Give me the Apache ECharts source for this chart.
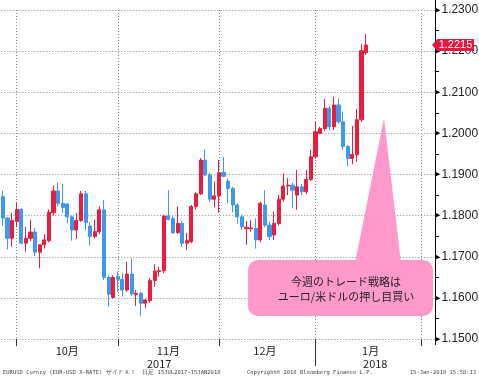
<!DOCTYPE html>
<html><head><meta charset="utf-8">
<script src="https://cdn.jsdelivr.net/npm/echarts@6/dist/echarts.min.js"></script>
<style>html,body{margin:0;padding:0;background:#fff}#c{width:479px;height:379px}</style>
</head><body><div id="c"></div>
<script>
// trading-day categories (weekdays) 2017-09-25 .. 2018-02-05
const dates = [
 '9/25','9/26','9/27','9/28','9/29',
 '10/2','10/3','10/4','10/5','10/6','10/9','10/10','10/11','10/12','10/13','10/16','10/17','10/18','10/19','10/20','10/23','10/24','10/25','10/26','10/27','10/30','10/31',
 '11/1','11/2','11/3','11/6','11/7','11/8','11/9','11/10','11/13','11/14','11/15','11/16','11/17','11/20','11/21','11/22','11/23','11/24','11/27','11/28','11/29','11/30',
 '12/1','12/4','12/5','12/6','12/7','12/8','12/11','12/12','12/13','12/14','12/15','12/18','12/19','12/20','12/21','12/22','12/25','12/26','12/27','12/28','12/29',
 '1/1','1/2','1/3','1/4','1/5','1/8','1/9','1/10','1/11','1/12','1/15','1/16','1/17','1/18','1/19','1/22','1/23','1/24','1/25','1/26','1/29','1/30','1/31',
 '2/1','2/2','2/5'
];
// EUR/USD daily OHLC, 9/26/2017 .. 1/15/2018
const opens = [
 1.1846,1.1794,1.1745,1.1786,
 1.1815,1.1733,1.1745,1.1760,1.1711,1.1729,1.1739,1.1807,1.1860,1.1830,1.1828,1.1797,1.1765,1.1788,1.1853,1.1775,1.1749,1.1761,1.1814,1.1650,1.1601,1.1652,
 1.1645,1.1619,1.1658,1.1608,1.1611,1.1587,1.1593,1.1642,1.1664,1.1666,1.1799,1.1793,1.1759,1.1781,1.1733,1.1737,1.1822,1.1853,1.1935,1.1899,1.1840,1.1848,
 1.1905,1.1884,1.1866,1.1826,1.1797,1.1768,1.1768,1.1769,1.1741,1.1826,1.1777,1.1753,1.1781,1.1840,1.1872,1.1874,1.1850,1.1870,1.1858,1.1888,1.1943,
 1.2000,1.2012,1.2061,1.2016,1.2069,1.2028,1.1968,1.1939,1.1948,1.2033,1.2196
];
const closes = [
 1.1794,1.1745,1.1788,1.1815,
 1.1733,1.1745,1.1760,1.1711,1.1729,1.1741,1.1808,1.1860,1.1830,1.1820,1.1797,1.1765,1.1788,1.1853,1.1783,1.1749,1.1761,1.1814,1.1650,1.1609,1.1650,1.1645,
 1.1619,1.1658,1.1610,1.1611,1.1587,1.1595,1.1642,1.1665,1.1666,1.1799,1.1791,1.1758,1.1781,1.1733,1.1739,1.1822,1.1853,1.1935,1.1899,1.1840,1.1848,1.1904,
 1.1896,1.1866,1.1826,1.1797,1.1773,1.1772,1.1770,1.1741,1.1830,1.1777,1.1749,1.1781,1.1840,1.1872,1.1874,1.1862,1.1870,1.1858,1.1888,1.1943,1.2004,
 1.2012,1.2061,1.2016,1.2069,1.2028,1.1968,1.1939,1.1949,1.2033,1.2201,1.2215
];
const lows = [
 1.1775,1.1718,1.1724,1.1772,
 1.1730,1.1712,1.1738,1.1702,1.1672,1.1720,1.1735,1.1800,1.1823,1.1807,1.1781,1.1739,1.1743,1.1785,1.1764,1.1727,1.1745,1.1755,1.1643,1.1579,1.1598,1.1615,
 1.1603,1.1615,1.1605,1.1580,1.1556,1.1575,1.1588,1.1627,1.1652,1.1660,1.1788,1.1757,1.1755,1.1725,1.1716,1.1733,1.1815,1.1850,1.1896,1.1833,1.1820,1.1807,
 1.1893,1.1830,1.1808,1.1780,1.1765,1.1729,1.1761,1.1720,1.1735,1.1772,1.1741,1.1741,1.1776,1.1834,1.1850,1.1818,1.1814,1.1850,1.1853,1.1884,1.1938,
 1.1998,1.2006,1.2008,1.2008,1.2024,1.1960,1.1919,1.1925,1.1931,1.2028,1.2191
];
const highs = [
 1.1861,1.1797,1.1807,1.1832,
 1.1818,1.1773,1.1790,1.1770,1.1731,1.1755,1.1815,1.1873,1.1881,1.1877,1.1830,1.1800,1.1806,1.1860,1.1860,1.1785,1.1790,1.1823,1.1838,1.1655,1.1655,1.1664,
 1.1660,1.1688,1.1696,1.1619,1.1614,1.1597,1.1648,1.1682,1.1676,1.1802,1.1862,1.1798,1.1822,1.1786,1.1758,1.1826,1.1857,1.1940,1.1961,1.1904,1.1883,1.1935,
 1.1942,1.1890,1.1870,1.1830,1.1803,1.1787,1.1789,1.1793,1.1834,1.1862,1.1785,1.1810,1.1850,1.1903,1.1891,1.1880,1.1911,1.1877,1.1911,1.1960,1.2028,
 1.2016,1.2083,1.2066,1.2089,1.2085,1.2053,1.1972,1.2018,1.2059,1.2217,1.2242
];
const firstDataIdx = 1;             // 9/26
const monthEndIdx = [4, 26, 48, 69, 92];
const monthLabels = {15: '10月', 37: '11月', 58: '12月', 81: '1月'};
const yearLabels = {35: '2017', 82: '2018'};
const yearBoundaryIdx = 69;
const yMin = 1.15, yMax = 1.23, yStep = 0.01;
const lastPrice = 1.2215;
const calloutLines = ['今週のトレード戦略は', 'ユーロ/米ドルの押し目買い'];
const footerLeft = 'EURUSD Curncy (EUR-USD X-RATE) ザイＦＸ！  日足 15JUL2017-15JAN2018';
const footerMid = 'Copyright© 2018 Bloomberg Finance L.P.';
const footerRight = '15-Jan-2018 15:50:13';

const UP = '#ec1c3e', DOWN = '#3d98ee', PINK = '#ff99cc';
const candle = dates.map((d, i) => {
  const k = i - firstDataIdx;
  return (k >= 0 && k < opens.length) ? [opens[k], closes[k], lows[k], highs[k]] : ['-', '-', '-', '-'];
});

const chart = echarts.init(document.getElementById('c'), null, {renderer: 'canvas'});
const yFont = '"Liberation Sans Narrow", "Liberation Sans", sans-serif';
const option = {
  animation: false,
  backgroundColor: '#fff',
  grid: {left: -1.7, right: 44, top: 10, bottom: 40, containLabel: false, outerBoundsMode: 'none'},
  xAxis: [{
    type: 'category', data: dates, boundaryGap: false,
    axisLine: {show: false},
    axisTick: {show: true, interval: (i) => monthEndIdx.includes(i), length: 7, lineStyle: {color: '#333'}},
    axisLabel: {interval: (i) => (i in monthLabels), formatter: (v, i) => monthLabels[i] || '',
      margin: 6, fontSize: 11, color: '#222', fontFamily: '"Noto Sans CJK JP"'},
    splitLine: {show: true, interval: (i) => monthEndIdx.includes(i), lineStyle: {color: '#888', type: [1, 2]}}
  }, {
    type: 'category', data: dates, boundaryGap: false, position: 'bottom', gridIndex: 0,
    axisLine: {show: false},
    axisTick: {show: true, interval: (i) => i === yearBoundaryIdx, length: 27, lineStyle: {color: '#333'}},
    axisLabel: {interval: (i) => (i in yearLabels), formatter: (v, i) => yearLabels[i] || '',
      margin: 19, fontSize: 11, color: '#222', fontFamily: '"Noto Sans CJK JP"'},
    splitLine: {show: false}
  }],
  yAxis: {
    type: 'value', position: 'right', min: yMin, max: yMax, interval: yStep,
    axisLine: {show: false}, axisTick: {show: false},
    minorTick: {show: true, splitNumber: 2, length: 4, lineStyle: {color: '#000'}},
    splitLine: {show: true, lineStyle: {color: '#888', type: [1, 2]}},
    axisLabel: {margin: 0, formatter: (v) => '{a|▶}{t|' + v.toFixed(4) + '}',
      rich: {a: {fontSize: 7, color: '#000', fontFamily: 'DejaVu Sans'}, t: {fontSize: 12, color: '#222', fontFamily: yFont, padding: [0, 0, 0, 1]}}}
  },
  series: [{
    type: 'candlestick', data: candle, xAxisIndex: 0, barWidth: 3.6,
    itemStyle: {color: UP, color0: DOWN, borderColor: UP, borderColor0: DOWN, borderWidth: 1}
  }]
};
chart.setOption(option);

const tagY = chart.convertToPixel({yAxisIndex: 0}, lastPrice);
const gridRight = 479 - 44;
chart.setOption({graphic: [
  {type: 'line', z: 50, shape: {x1: gridRight + 0.5, y1: 0, x2: gridRight + 0.5, y2: 345}, style: {stroke: '#000', lineWidth: 1}},
  {type: 'polygon', z: 60, shape: {points: [[384, 118], [355, 263], [401, 263]]}, style: {fill: PINK}},
  {type: 'rect', z: 60, shape: {x: 248, y: 260, width: 185, height: 56, r: 10}, style: {fill: PINK}},
  {type: 'text', z: 61, x: 346, y: 282, style: {text: calloutLines[0], font: '11px "Noto Sans CJK JP"', fill: '#222', align: 'center', verticalAlign: 'middle'}},
  {type: 'text', z: 61, x: 346, y: 297, style: {text: calloutLines[1], font: '11px "Noto Sans CJK JP"', fill: '#222', align: 'center', verticalAlign: 'middle'}},
  {type: 'polygon', z: 70, shape: {points: [[432, tagY], [437.5, tagY - 6], [437.5, tagY + 6]]}, style: {fill: '#e8173d'}},
  {type: 'rect', z: 70, shape: {x: 437, y: tagY - 6, width: 37, height: 12}, style: {fill: '#e8173d'}},
  {type: 'text', z: 71, x: 455.5, y: tagY, style: {text: lastPrice.toFixed(4), font: '11px ' + yFont, fill: '#fff', align: 'center', verticalAlign: 'middle'}},
  {type: 'text', z: 40, x: 3, y: 373, style: {text: footerLeft, font: '5.5px "DejaVu Sans Mono"', fill: '#444', verticalAlign: 'middle'}},
  {type: 'text', z: 40, x: 247, y: 373, style: {text: footerMid, font: '5.5px "DejaVu Sans Mono"', fill: '#444', verticalAlign: 'middle'}},
  {type: 'text', z: 40, x: 476, y: 373, style: {text: footerRight, font: '5.5px "DejaVu Sans Mono"', fill: '#444', align: 'right', verticalAlign: 'middle'}}
]});
</script>
</body></html>
